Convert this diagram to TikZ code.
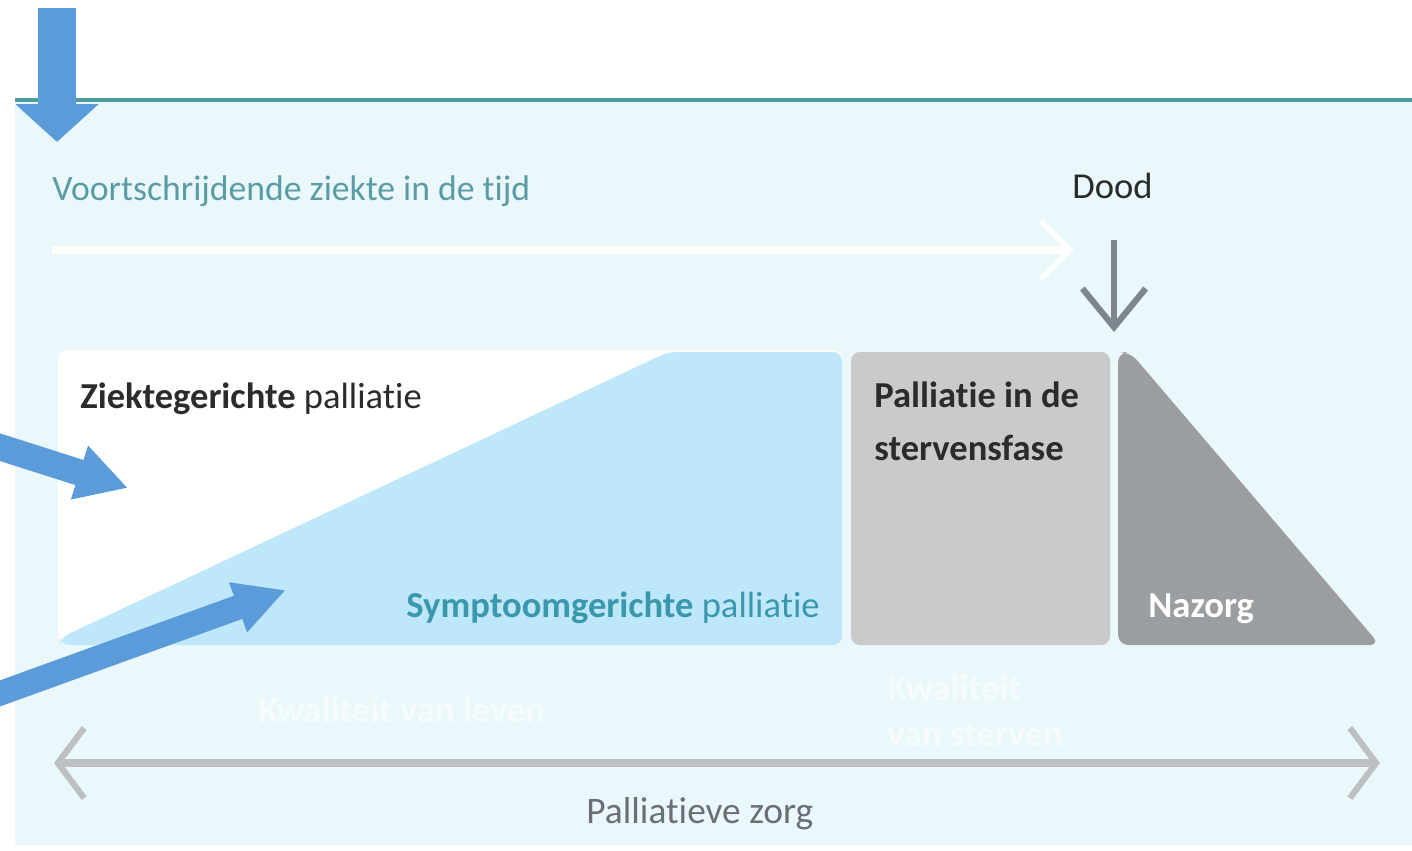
\documentclass[tikz,border=0pt]{standalone}
\usepackage{fontspec}
\setmainfont[Ligatures=NoCommon]{Carlito}
\usetikzlibrary{arrows.meta}
\definecolor{bgblue}{HTML}{EAF8FC}
\definecolor{lightblue}{HTML}{BEE7F9}
\definecolor{boxgray}{HTML}{C8CACC}
\definecolor{darkgray}{HTML}{9B9EA1}
\definecolor{tealline}{HTML}{4F9C9E}
\definecolor{arrowblue}{HTML}{5B9BD9}
\definecolor{tealtext}{HTML}{5A9CA4}
\definecolor{symtext}{HTML}{3A98AE}
\definecolor{axisgray}{HTML}{BDC0C3}
\definecolor{labelgray}{HTML}{6B6F73}
\definecolor{deathgray}{HTML}{7E858B}
\definecolor{darktext}{HTML}{2B2B2B}
\begin{document}
\begin{tikzpicture}[x=0.02cm,y=-0.02cm,
  txt/.style={inner sep=0pt, anchor=base west, font=\fontsize{20.8}{30}\selectfont},
  faint/.style={txt, text=white, text opacity=0.6, font=\fontsize{20.8}{26}\selectfont\bfseries}]
\clip (0,0) rectangle (1412,850);
\fill[white] (0,0) rectangle (1412,850);
\fill[bgblue] (15,101) rectangle (1412,845);
\draw[tealline, line width=2.3pt] (15,100) -- (1412,100);

% phase shapes
\fill[white, rounded corners=5pt] (58,350) rectangle (842,645);
\fill[lightblue, rounded corners=5pt] (60,645) -- (60,638) -- (668,352) -- (842,352) -- (842,645) -- cycle;
\fill[boxgray, rounded corners=5pt] (851,352) rectangle (1110,645);
\fill[darkgray, rounded corners=6pt] (1118,645) -- (1118,352) -- (1130,352) -- (1380,645) -- cycle;

% texts
\node[txt, text=tealtext, font=\fontsize{20.3}{30}\selectfont] (progress) at (52,200) {Voortschrijdende ziekte in de tijd};
\node[txt, text=darktext] (dood) at (1072,198) {Dood};
\node[txt, text=darktext] (ziekte) at (80,408) {\textbf{Ziektegerichte} palliatie};
\node[txt, text=symtext, anchor=base east] (symptoom) at (820,617) {\textbf{Symptoomgerichte} palliatie};
\node[txt, text=darktext, align=left, font=\fontsize{20.8}{30pt}\selectfont\bfseries] (sterven) at (874,460) {Palliatie in de\\stervensfase};
\node[txt, text=white, font=\fontsize{20.8}{24}\selectfont\bfseries] (nazorg) at (1148,617) {Nazorg};
\node[faint] (kwleven) at (258,722) {Kwaliteit van leven};
\node[faint, align=left, font=\fontsize{20.8}{26pt}\selectfont\bfseries] (kwsterven) at (887,746) {Kwaliteit\\van sterven};
\node[txt, text=labelgray, font=\fontsize{21.3}{30}\selectfont] (zorg) at (586,823) {Palliatieve zorg};

% connectors
\coordinate (w1) at (52,250);
\coordinate (w2) at (1074,250);
\draw[white, line width=4.5pt, -{Straight Barb[length=17pt,width=33pt,line width=3pt]}] (w1) -- (w2);

\coordinate (d1) at (1114,240);
\coordinate (d2) at (1114,332);
\draw[deathgray, line width=3.5pt, -{Straight Barb[length=22pt,width=36pt,line width=3.5pt]}] (d1) -- (d2);

\coordinate (z1) at (54,763);
\coordinate (z2) at (1380,763);
\draw[axisgray, line width=4.5pt, {Straight Barb[length=15pt,width=40pt,line width=3.5pt]}-{Straight Barb[length=15pt,width=40pt,line width=3.5pt]}] (z1) -- (z2);

% blue pointer arrows
\coordinate (t1) at (57,8);
\coordinate (t2) at (57,142);
\draw[arrowblue, line width=22pt, -{Triangle[length=21.5pt,width=46pt]}] (t1) -- (t2);

\coordinate (a1) at (-10,444);
\coordinate (a2) at (128,488);
\draw[arrowblue, line width=15pt, -{Triangle[length=29pt,width=30pt]}] (a1) -- (a2);

\coordinate (b1) at (-10,697);
\coordinate (b2) at (286,590);
\draw[arrowblue, line width=14pt, -{Triangle[length=29pt,width=28pt]}] (b1) -- (b2);
\end{tikzpicture}
\end{document}
